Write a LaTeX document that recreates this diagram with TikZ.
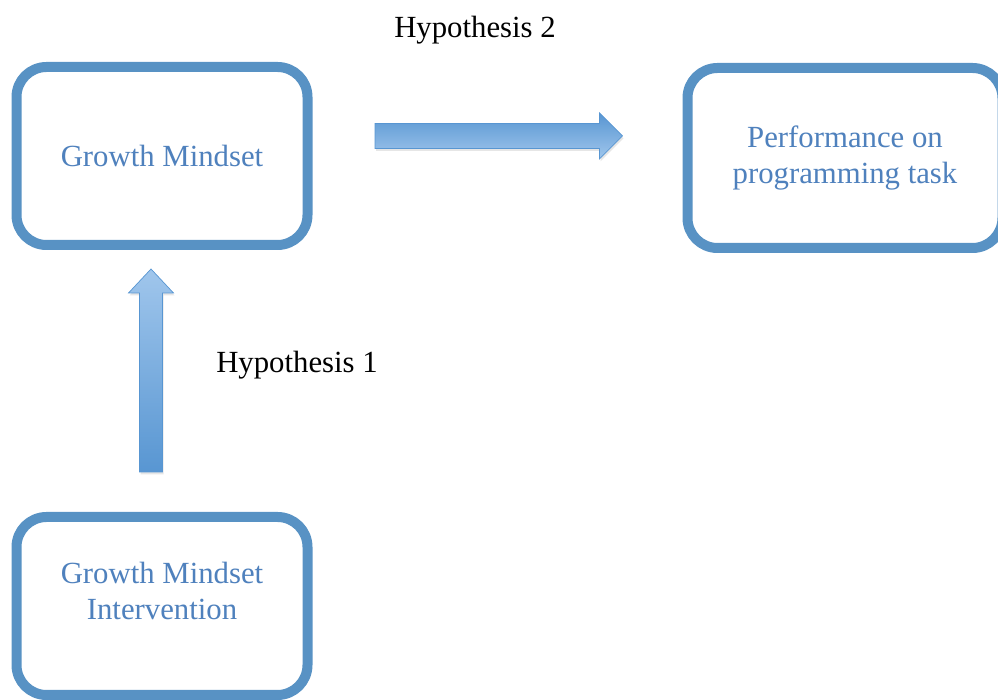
\documentclass[tikz,border=0pt]{standalone}
\usepackage{fontspec}
\setmainfont{Liberation Serif}
\usetikzlibrary{calc,shadows}

\definecolor{boxblue}{RGB}{88,146,196}
\definecolor{textblue}{RGB}{79,129,189}
\definecolor{arrowdark}{RGB}{88,150,210}
\definecolor{arrowlight}{RGB}{160,198,236}

\begin{document}
\begin{tikzpicture}[
    mindbox/.style={rectangle, draw=boxblue, line width=0.2cm, rounded corners=0.6cm, fill=white, minimum width=5.82cm, minimum height=3.56cm, align=center, text=textblue, font=\fontsize{17.5}{20}\selectfont, drop shadow={opacity=0.25, shadow xshift=0.03cm, shadow yshift=-0.06cm}},
    boxtext/.style={align=center, text=textblue, font=\fontsize{17.5}{20}\selectfont},
    hyplabel/.style={font=\fontsize{17.5}{20}\selectfont, text=black},
    blockarrow/.style={draw=arrowdark, line width=0.4pt, drop shadow={opacity=0.2, shadow xshift=0.02cm, shadow yshift=-0.05cm}}
]
\useasboundingbox (0,0) rectangle (19.96,14);

% Boxes
\node[mindbox] (gm) at (3.24, 10.88) {Growth Mindset};
\node[mindbox, minimum width=6.3cm, minimum height=3.6cm] (perf) at (16.9, 10.84) {Performance on\\programming task};
\node[mindbox] (interv) at (3.24, 1.88) {};
\node[boxtext] (intervtext) at ($(interv.center)+(0,0.3)$) {Growth Mindset\\Intervention};

% Arrow ends
\coordinate (h2a) at ($(gm.east)+(1.25,0.4)$);
\coordinate (h2b) at ($(perf.west)+(-1.2,0.44)$);
\coordinate (h1a) at ($(interv.north)+(-0.22,0.8)$);
\coordinate (h1b) at ($(gm.south)+(-0.22,-0.38)$);

% Hypothesis 2
\shade[blockarrow, top color=arrowdark, bottom color=arrowlight]
  ($(h2a)+(0,0.25)$) -- ($(h2b)+(-0.46,0.25)$) -- ($(h2b)+(-0.46,0.46)$) -- (h2b)
  -- ($(h2b)+(-0.46,-0.46)$) -- ($(h2b)+(-0.46,-0.25)$) -- ($(h2a)+(0,-0.25)$) -- cycle;

% Hypothesis 1
\shade[blockarrow, top color=arrowlight, bottom color=arrowdark]
  ($(h1a)+(-0.23,0)$) -- ($(h1b)+(-0.23,-0.48)$) -- ($(h1b)+(-0.45,-0.48)$) -- (h1b)
  -- ($(h1b)+(0.45,-0.48)$) -- ($(h1b)+(0.23,-0.48)$) -- ($(h1a)+(0.23,0)$) -- cycle;

% Labels
\node[hyplabel] (hyp2) at (9.5, 13.4) {Hypothesis 2};
\node[hyplabel] (hyp1) at (5.94, 6.7) {Hypothesis 1};

\end{tikzpicture}
\end{document}
